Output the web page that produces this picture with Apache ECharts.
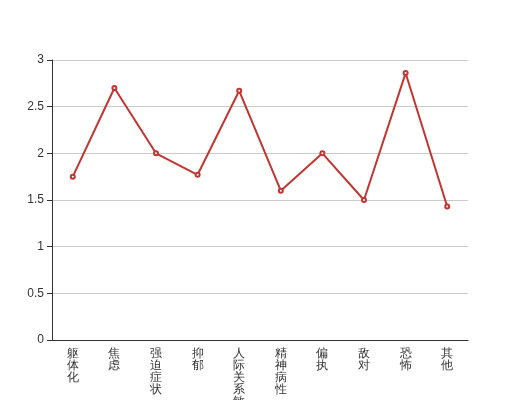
<!DOCTYPE html>
<html>
<head>
<meta charset="utf-8">
<script src="https://cdn.jsdelivr.net/npm/echarts@6/dist/echarts.min.js"></script>
<style>
  html, body { margin: 0; padding: 0; background: #fff; }
  #main { width: 520px; height: 400px; }
</style>
</head>
<body>
<div id="main"></div>
<script>
var categories = ['躯体化', '焦虑', '强迫症状', '抑郁', '人际关系敏感', '精神病性', '偏执', '敌对', '恐怖', '其他']
var scores = [1.75, 2.7, 2.0, 1.77, 2.67, 1.6, 2.0, 1.5, 2.86, 1.43]

var myChart = echarts.init(document.getElementById('main'))
var option = {
    backgroundColor: '#fff',
    grid: {
        left: 52,
        right: 52,
        top: 60,
        bottom: 60,
        containLabel: false,
        outerBoundsMode: 'none',
    },
    xAxis: {
        type: 'category',
        data: categories,
        boundaryGap: true,
        axisLine: { lineStyle: { color: '#333' } },
        axisTick: { lineStyle: { color: '#333' } },
        axisLabel: {
            color: '#333',
            fontSize: 12,
            interval: 0,
            lineHeight: 12,
            formatter: function (v) {
                return v.split('').join('\n')
            },
        },
    },
    yAxis: {
        type: 'value',
        min: 0,
        max: 3,
        interval: 0.5,
        axisLine: { show: true, lineStyle: { color: '#333' } },
        axisTick: { show: true, lineStyle: { color: '#333' } },
        axisLabel: { color: '#333', fontSize: 12 },
        splitLine: { lineStyle: { color: '#ccc' } },
    },
    series: [
        {
            type: 'line',
            data: scores,
            symbol: 'emptyCircle',
            symbolSize: 4,
            lineStyle: { color: '#c23531', width: 2 },
            itemStyle: { color: '#c23531' },
        },
    ],
}
myChart.setOption(option)
</script>
</body>
</html>
